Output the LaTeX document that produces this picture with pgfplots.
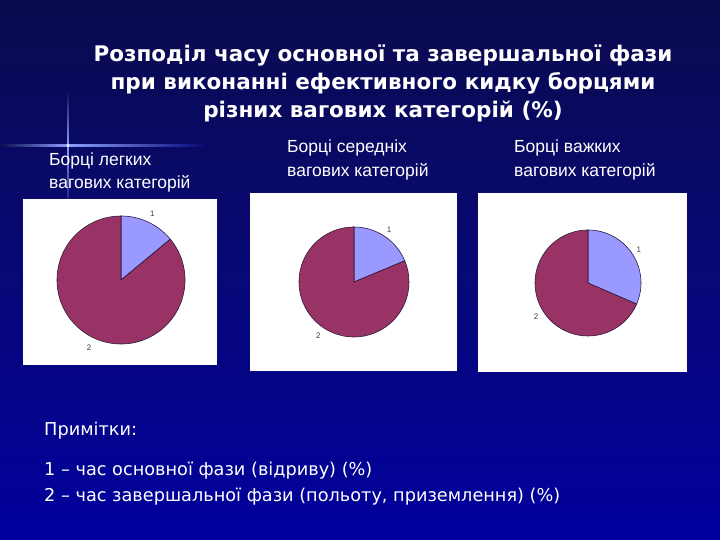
\documentclass[border=0pt]{standalone}
\usepackage{pgfplots}
\usepackage{pgfplotstable}
\pgfplotsset{compat=1.18}
\usepackage{fontspec}
\setmainfont{Liberation Sans}
\newfontfamily\titlefont{DejaVu Sans}
\definecolor{bgtop}{RGB}{10,10,78}
\definecolor{bgmid}{RGB}{8,8,118}
\definecolor{bgbot}{RGB}{0,0,158}
\definecolor{flare}{RGB}{140,160,255}
\definecolor{sliceA}{RGB}{153,153,255}
\definecolor{sliceB}{RGB}{153,51,102}
\definecolor{slicedraw}{RGB}{45,25,60}

% share of phase 1 and phase 2 (%)
\pgfplotstableread{
group  p1    p2
light  14.0  86.0
middle 18.7  81.3
heavy  31.5  68.5
}\piedata

% #1 row, #2 centre x, #3 centre y, #4 radius (pt), #5 diameter (pt)
\newcommand{\drawpie}[5]{%
  \pgfplotstablegetelem{#1}{p1}\of\piedata
  \edef\pa{\pgfplotsretval}%
  \pgfmathsetmacro{\ea}{90-3.6*\pa}%
  \pgfmathsetmacro{\ma}{90-1.8*\pa}%
  \pgfmathsetmacro{\mb}{(\ea-270)/2}%
  \begin{axis}[hide axis, scale only axis, clip=false,
      width=#5pt, height=#5pt,
      xmin=-1, xmax=1, ymin=-1, ymax=1,
      at={(#2pt,#3pt)}, anchor=origin]
    \filldraw[fill=sliceA, draw=slicedraw, line width=0.6pt]
      (axis cs:0,0) -- (axis cs:0,1) arc[start angle=90, end angle=\ea, radius=#4pt] -- cycle;
    \filldraw[fill=sliceB, draw=slicedraw, line width=0.6pt]
      (axis cs:0,0) -- (axis cs:{cos(\ea)},{sin(\ea)}) arc[start angle=\ea, end angle=-270, radius=#4pt] -- cycle;
    \node[font=\fontsize{8}{9}\selectfont, text=black!75] at (axis cs:{1.15*cos(\ma)},{1.15*sin(\ma)}) {1};
    \node[font=\fontsize{8}{9}\selectfont, text=black!75] at (axis cs:{1.17*cos(\mb)},{1.17*sin(\mb)}) {2};
  \end{axis}%
}

\begin{document}
\begin{tikzpicture}
% background
\shade[top color=bgtop, bottom color=bgmid] (0pt,270pt) rectangle (720pt,540pt);
\shade[top color=bgmid, bottom color=bgbot] (0pt,0pt) rectangle (720pt,270pt);
% lens flare
\shade[left color=bgtop, right color=flare] (0pt,393.8pt) rectangle (68pt,395.2pt);
\shade[left color=flare, right color=bgmid] (68pt,393.8pt) rectangle (205pt,395.2pt);
\shade[bottom color=flare, top color=bgtop] (67.3pt,394.5pt) rectangle (68.7pt,450pt);
\shade[top color=flare, bottom color=bgmid] (67.3pt,330pt) rectangle (68.7pt,394.5pt);
\fill[white] (68pt,394.5pt) circle (1.5pt);

% title
\begin{scope}[every node/.style={inner sep=0pt, text=white, font=\titlefont\bfseries\fontsize{21.5}{26}\selectfont}]
\node[anchor=base] at (383pt,478pt) {Розподіл часу основної та завершальної фази};
\node[anchor=base] at (383pt,450pt) {при виконанні ефективного кидку борцями};
\node[anchor=base] at (383pt,422pt) {різних вагових категорій (\%)};
\end{scope}

% subtitles
\begin{scope}[every node/.style={inner sep=0pt, text=white, anchor=base west, font=\fontsize{17.5}{20}\selectfont}]
\node at (49pt,374pt) {Борці легких};
\node at (49pt,351pt) {вагових категорій};
\node at (287pt,387pt) {Борці середніх};
\node at (287pt,363pt) {вагових категорій};
\node at (514pt,387pt) {Борці важких};
\node at (514pt,363pt) {вагових категорій};
\end{scope}

% white chart boxes
\fill[white] (23pt,175pt) rectangle (217pt,341pt);
\fill[white] (250pt,169pt) rectangle (457pt,347pt);
\fill[white] (478pt,168pt) rectangle (687pt,347pt);

% pies
\drawpie{0}{121}{260}{64}{128}
\drawpie{1}{354}{258}{55}{110}
\drawpie{2}{588}{257}{53}{106}

% notes
\begin{scope}[every node/.style={inner sep=0pt, text=white, anchor=base west, font=\titlefont\fontsize{17.7}{21}\selectfont}]
\node at (44pt,104pt) {Примітки:};
\node at (44pt,64pt) {1 – час основної фази (відриву) (\%)};
\node at (44pt,38pt) {2 – час завершальної фази (польоту, приземлення) (\%)};
\end{scope}
\end{tikzpicture}
\end{document}
